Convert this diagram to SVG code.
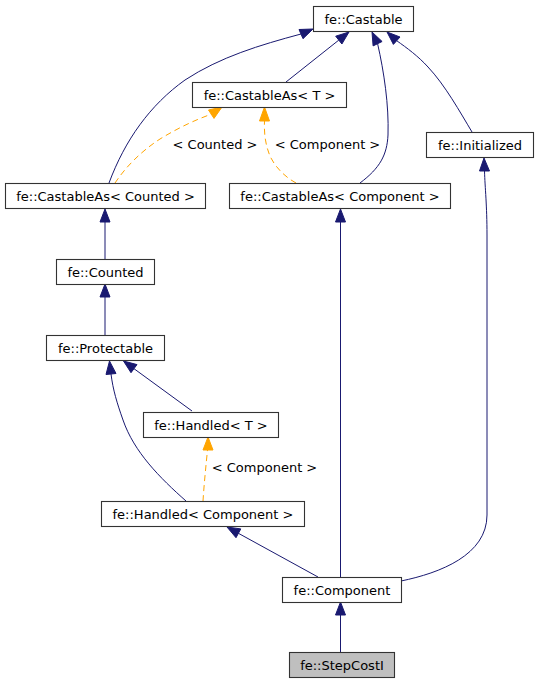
<svg xmlns="http://www.w3.org/2000/svg" width="539" height="684" viewBox="0 0 539 684">
<style>
.n rect{fill:#ffffff;stroke:#333333;stroke-width:1.1}
.n.h rect{fill:#bfbfbf}
text{font-family:"DejaVu Sans","Liberation Sans",sans-serif;font-size:13px;fill:#000;text-anchor:middle}
.e path{fill:none;stroke:#191970;stroke-width:1}
.e polygon{fill:#191970;stroke:#191970;stroke-width:1}
.t path{fill:none;stroke:#ffa500;stroke-width:1;stroke-dasharray:6,4}
.t polygon{fill:#ffa500;stroke:#ffa500;stroke-width:1}
</style>
<rect width="539" height="684" fill="#ffffff"/>
<g id="connectors">
<g class="e">
<path d="M109,183 C125,140 150,105 185,80 C220,57 260,45 301,34"/>
<polygon points="313,29 303,38.7 299,29.5"/>
<path d="M286,82 L338.8,40.1"/>
<polygon points="349,32 341.9,44 335.7,36.2"/>
<path d="M360,183 C380,168 387,155 388,135 C389,105 384,72 377.6,43.7"/>
<polygon points="372,32 382.1,41.5 373.1,45.9"/>
<path d="M472,132 C460,112 445,85 428,67 C418,56 407,48 396.7,40.7"/>
<polygon points="387,32 400,37 393.4,44.4"/>
<path d="M340.5,577 L340.5,222"/>
<polygon points="340.5,209 335.5,222 345.5,222"/>
<path d="M401,581 C440,573 487,555 487,515 L487,235 C487,205 485,188 484.5,171"/>
<polygon points="484,158 479.5,171 489.5,171"/>
<path d="M105,259 L105,222"/>
<polygon points="105,209 100,222 110,222"/>
<path d="M105,335 L105,297"/>
<polygon points="105,284 100,297 110,297"/>
<path d="M192,411 L134,368.7"/>
<polygon points="123.5,361 137,364.6 131,372.7"/>
<path d="M186,501 C160,478 134,452 123,420 C117,403 113,390 111,374"/>
<polygon points="109.5,361 106,374.5 116,373.5"/>
<path d="M318,577 L238.4,533.3"/>
<polygon points="227,527 240.8,528.9 236,537.7"/>
<path d="M340.5,652 L340.5,615"/>
<polygon points="340.5,602 335.5,615 345.5,615"/>
</g>
<g class="t">
<path d="M115,183 C125,168 140,152 160,139 C178,128 195,120 211.2,114.2"/>
<polygon points="222,107 214,118.4 208.5,110"/>
<path d="M296,183 C285,177 275,167 270,156 C265,144 264,132 264.5,121"/>
<polygon points="264.5,107 259.5,121 269.5,121"/>
<path d="M203,501 C204,485 206,465 207.5,450"/>
<polygon points="208,437 203,450 213,450"/>
</g>
<text x="215" y="148.5">&lt; Counted &gt;</text>
<text x="327.5" y="148.5">&lt; Component &gt;</text>
<text x="264.5" y="471.5">&lt; Component &gt;</text>
</g>
<g id="castable" class="n"><rect x="313.5" y="6.5" width="100" height="25"/><text x="363.5" y="23.5">fe::Castable</text></g>
<g id="castableAsT" class="n"><rect x="192.5" y="82.5" width="154" height="25"/><text x="269.5" y="99.5">fe::CastableAs&lt; T &gt;</text></g>
<g id="initialized" class="n"><rect x="426.5" y="132.5" width="107" height="25"/><text x="480" y="149.5">fe::Initialized</text></g>
<g id="castableAsCounted" class="n"><rect x="5.5" y="183.5" width="200" height="25"/><text x="105.5" y="200.5">fe::CastableAs&lt; Counted &gt;</text></g>
<g id="castableAsComponent" class="n"><rect x="229.5" y="183.5" width="221" height="25"/><text x="340" y="200.5">fe::CastableAs&lt; Component &gt;</text></g>
<g id="counted" class="n"><rect x="56.5" y="259.5" width="98" height="25"/><text x="105.5" y="276.5">fe::Counted</text></g>
<g id="protectable" class="n"><rect x="46.5" y="335.5" width="118" height="25"/><text x="105.5" y="352.5">fe::Protectable</text></g>
<g id="handledT" class="n"><rect x="143.5" y="412.5" width="135" height="25"/><text x="211" y="429.5">fe::Handled&lt; T &gt;</text></g>
<g id="handledComponent" class="n"><rect x="101.5" y="501.5" width="203" height="25"/><text x="203" y="518.5">fe::Handled&lt; Component &gt;</text></g>
<g id="component" class="n"><rect x="282.5" y="577.5" width="119" height="25"/><text x="342" y="594.5">fe::Component</text></g>
<g id="stepCostI" class="n h"><rect x="289.5" y="652.5" width="105" height="25"/><text x="342" y="669.5">fe::StepCostI</text></g>
</svg>
